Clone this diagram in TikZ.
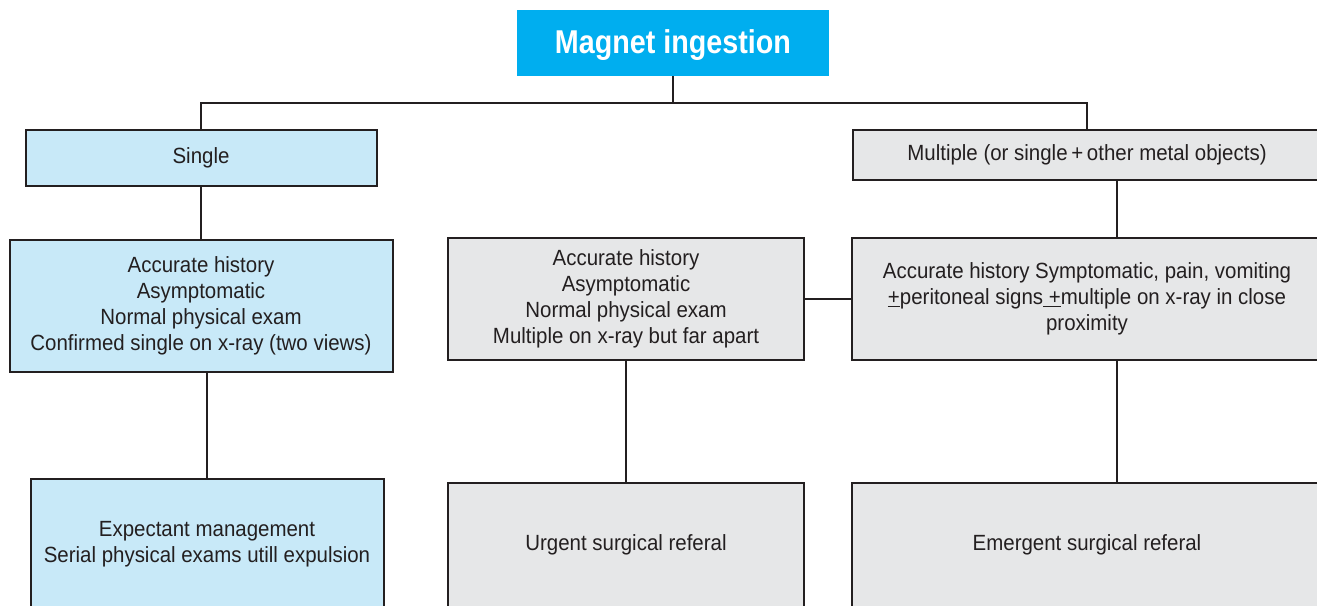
\documentclass[tikz,border=0pt]{standalone}
\usepackage{fontspec}
\setmainfont{Liberation Sans}[FakeStretch=0.93]
\newfontfamily\titlefont{Liberation Sans}[FakeStretch=0.87]
\definecolor{titlecyan}{HTML}{00AEEF}
\definecolor{lightblue}{HTML}{C8E9F8}
\definecolor{lightgrey}{HTML}{E6E7E8}
\definecolor{ink}{HTML}{231F20}
\tikzset{
  box/.style={draw=ink, line width=2pt, inner sep=0pt, align=center, text=ink,
    font=\fontsize{22}{26}\selectfont},
  bluebox/.style={box, fill=lightblue},
  greybox/.style={box, fill=lightgrey},
  conn/.style={draw=ink, line width=2pt},
}
\begin{document}
\begin{tikzpicture}[x=1pt,y=-1pt]
\useasboundingbox (0,0) rectangle (1317,605);
\clip (0,0) rectangle (1317,605);
% title
\node[fill=titlecyan, minimum width=312pt, minimum height=66pt, inner sep=0pt,
  text=white, text depth=2pt, font=\titlefont\bfseries\fontsize{33}{38}\selectfont] (title) at (673,43) {Magnet ingestion};
% level 1
\node[bluebox, minimum width=351pt, minimum height=56pt] (single) at (201,158) {Single};
\node[greybox, minimum width=468pt, minimum height=50pt] (multi) at (1087,155) {Multiple (or single\,+\,other metal objects)};
% level 2
\node[bluebox, minimum width=383pt, minimum height=132pt] (sdet) at (201,306) {Accurate history\\Asymptomatic\\Normal physical exam\\Confirmed single on x-ray (two views)};
\node[greybox, minimum width=356pt, minimum height=122pt] (mdet) at (626,299) {Accurate history\\Asymptomatic\\Normal physical exam\\Multiple on x-ray but far apart};
\node[greybox, minimum width=470pt, minimum height=122pt] (rdet) at (1087,299) {Accurate history Symptomatic, pain, vomiting\\\underline{+}peritoneal signs\underline{ +}multiple on x-ray in close\\proximity};
% level 3
\node[bluebox, minimum width=353pt, minimum height=130pt] (sout) at (207,544) {Expectant management\\Serial physical exams utill expulsion};
\node[greybox, minimum width=356pt, minimum height=124pt] (mout) at (626,545) {Urgent surgical referal};
\node[greybox, minimum width=470pt, minimum height=124pt] (rout) at (1087,545) {Emergent surgical referal};
% connectors
\coordinate (bar) at (673,103);
\draw[conn] (title.south) -- (bar);
\draw[conn] (single.north) |- (bar) -| (multi.north);
\draw[conn] (single.south) -- (sdet.north);
\draw[conn] ([xshift=30pt]multi.south) -- ([xshift=30pt]rdet.north);
\draw[conn] (mdet.east) -- (rdet.west);
\draw[conn] ([xshift=6pt]sdet.south) -- (sout.north);
\draw[conn] (mdet.south) -- (mout.north);
\draw[conn] ([xshift=30pt]rdet.south) -- ([xshift=30pt]rout.north);
\end{tikzpicture}
\end{document}
